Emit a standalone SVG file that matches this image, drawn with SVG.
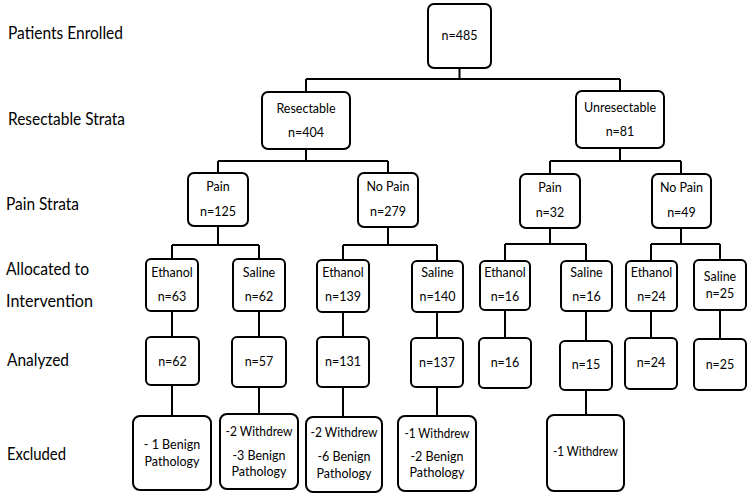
<svg xmlns="http://www.w3.org/2000/svg" width="750" height="499" viewBox="0 0 750 499">
<style>
.bx{fill:#fff;stroke:#000;stroke-width:2}
.ln{stroke:#000;stroke-width:2;fill:none}
.t{font-family:"Lato","Liberation Sans",sans-serif;font-size:12.5px;text-anchor:middle;fill:#000}
.lb{font-family:"Lato","Liberation Sans",sans-serif;font-size:17px;fill:#000}
</style>
<rect width="750" height="499" fill="#fff"/>
<g id="labels">
<text class="lb" x="8" y="39" textLength="115" lengthAdjust="spacingAndGlyphs">Patients Enrolled</text>
<text class="lb" x="8" y="125" textLength="117" lengthAdjust="spacingAndGlyphs">Resectable Strata</text>
<text class="lb" x="6" y="210" textLength="73" lengthAdjust="spacingAndGlyphs">Pain Strata</text>
<text class="lb" x="6" y="275" textLength="83" lengthAdjust="spacingAndGlyphs">Allocated to</text>
<text class="lb" x="6" y="307" textLength="87" lengthAdjust="spacingAndGlyphs">Intervention</text>
<text class="lb" x="7" y="366" textLength="62" lengthAdjust="spacingAndGlyphs">Analyzed</text>
<text class="lb" x="7" y="460" textLength="59" lengthAdjust="spacingAndGlyphs">Excluded</text>
</g>
<g id="connectors" class="ln">
<path d="M459.5 68V79M306 79H620M306 79V92M620 79V91"/>
<path d="M306 149V161M218 161H388M218 161V173M388 161V173"/>
<path d="M620 148V161M550 161H681M550 161V174M681 161V174"/>
<path d="M218 226V245M172 245H259M172 245V259M259 245V259"/>
<path d="M388 227V245M343 245H437M343 245V260M437 245V261"/>
<path d="M550 228V244M505 244H586M505 244V261M586 244V261"/>
<path d="M681 228V244M651 244H720M651 244V261M720 244V260"/>
<path d="M172 311V337M259 311V337M343 312V337M437 312V338M505 310V338M586 311V341M651 311V338M720 310V339"/>
<path d="M172 385V416M259 387V414M343 387V417M437 387V416M586 390V415"/>
</g>
<g id="n485"><rect class="bx" x="428" y="4" width="63" height="64" rx="6"/><text class="t" x="459.5" y="40">n=485</text></g>
<g id="resectable"><rect class="bx" x="262" y="92" width="88" height="57" rx="6"/><text class="t" x="306" y="113">Resectable</text><text class="t" x="306" y="137">n=404</text></g>
<g id="unresectable"><rect class="bx" x="576" y="91" width="88" height="57" rx="6"/><text class="t" x="620" y="112">Unresectable</text><text class="t" x="620" y="136">n=81</text></g>
<g id="painL"><rect class="bx" x="188" y="173" width="60" height="53" rx="6"/><text class="t" x="218" y="191">Pain</text><text class="t" x="218" y="216">n=125</text></g>
<g id="nopainL"><rect class="bx" x="358" y="173" width="60" height="54" rx="6"/><text class="t" x="388" y="191">No Pain</text><text class="t" x="388" y="216">n=279</text></g>
<g id="painR"><rect class="bx" x="520" y="174" width="60" height="54" rx="6"/><text class="t" x="550" y="192">Pain</text><text class="t" x="550" y="217">n=32</text></g>
<g id="nopainR"><rect class="bx" x="652" y="174" width="59" height="54" rx="6"/><text class="t" x="681.5" y="192">No Pain</text><text class="t" x="681.5" y="217">n=49</text></g>
<g id="eth63"><rect class="bx" x="146" y="259" width="52" height="52" rx="5"/><text class="t" x="172" y="277">Ethanol</text><text class="t" x="172" y="301">n=63</text></g>
<g id="sal62"><rect class="bx" x="233" y="259" width="52" height="52" rx="5"/><text class="t" x="259" y="277">Saline</text><text class="t" x="259" y="301">n=62</text></g>
<g id="eth139"><rect class="bx" x="317" y="260" width="52" height="52" rx="5"/><text class="t" x="343" y="277">Ethanol</text><text class="t" x="343" y="301">n=139</text></g>
<g id="sal140"><rect class="bx" x="412" y="261" width="51" height="51" rx="5"/><text class="t" x="437.5" y="277">Saline</text><text class="t" x="437.5" y="301">n=140</text></g>
<g id="eth16"><rect class="bx" x="480" y="261" width="50" height="49" rx="5"/><text class="t" x="505" y="277">Ethanol</text><text class="t" x="505" y="301">n=16</text></g>
<g id="sal16"><rect class="bx" x="561" y="261" width="51" height="50" rx="5"/><text class="t" x="586.5" y="277">Saline</text><text class="t" x="586.5" y="301">n=16</text></g>
<g id="eth24"><rect class="bx" x="626" y="261" width="51" height="50" rx="5"/><text class="t" x="651.5" y="277">Ethanol</text><text class="t" x="651.5" y="301">n=24</text></g>
<g id="sal25"><rect class="bx" x="694" y="260" width="52" height="50" rx="5"/><text class="t" x="720" y="281">Saline</text><text class="t" x="720" y="298">n=25</text></g>
<g id="a62"><rect class="bx" x="146" y="337" width="53" height="48" rx="5"/><text class="t" x="172.5" y="366">n=62</text></g>
<g id="a57"><rect class="bx" x="232" y="337" width="54" height="50" rx="5"/><text class="t" x="259" y="366">n=57</text></g>
<g id="a131"><rect class="bx" x="317" y="337" width="52" height="50" rx="5"/><text class="t" x="343" y="366">n=131</text></g>
<g id="a137"><rect class="bx" x="411" y="338" width="52" height="49" rx="5"/><text class="t" x="437" y="367">n=137</text></g>
<g id="a16"><rect class="bx" x="479" y="338" width="52" height="50" rx="5"/><text class="t" x="505" y="367">n=16</text></g>
<g id="a15"><rect class="bx" x="560" y="341" width="52" height="49" rx="5"/><text class="t" x="586" y="369">n=15</text></g>
<g id="a24"><rect class="bx" x="625" y="338" width="52" height="51" rx="5"/><text class="t" x="651" y="367">n=24</text></g>
<g id="a25"><rect class="bx" x="694" y="339" width="52" height="51" rx="5"/><text class="t" x="720" y="369">n=25</text></g>
<g id="x1"><rect class="bx" x="133" y="416" width="78" height="74" rx="7"/><text class="t" x="172" y="449">- 1 Benign</text><text class="t" x="172" y="466">Pathology</text></g>
<g id="x2"><rect class="bx" x="220" y="414" width="78" height="75" rx="7"/><text class="t" x="259" y="436" textLength="67" lengthAdjust="spacingAndGlyphs">-2 Withdrew</text><text class="t" x="259" y="460">-3 Benign</text><text class="t" x="259" y="476">Pathology</text></g>
<g id="x3"><rect class="bx" x="306" y="417" width="76" height="75" rx="7"/><text class="t" x="344" y="437" textLength="67" lengthAdjust="spacingAndGlyphs">-2 Withdrew</text><text class="t" x="344" y="461">-6 Benign</text><text class="t" x="344" y="478">Pathology</text></g>
<g id="x4"><rect class="bx" x="398" y="416" width="78" height="75" rx="7"/><text class="t" x="437" y="438" textLength="65" lengthAdjust="spacingAndGlyphs">-1 Withdrew</text><text class="t" x="437" y="461">-2 Benign</text><text class="t" x="437" y="477">Pathology</text></g>
<g id="x5"><rect class="bx" x="547" y="415" width="77" height="76" rx="7"/><text class="t" x="585.5" y="456" textLength="65" lengthAdjust="spacingAndGlyphs">-1 Withdrew</text></g>
</svg>
